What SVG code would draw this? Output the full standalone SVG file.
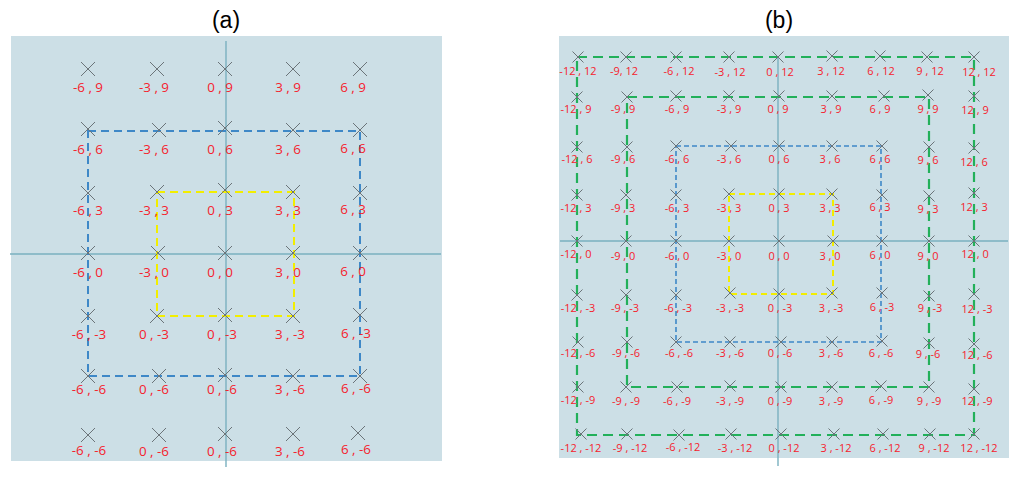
<svg xmlns="http://www.w3.org/2000/svg" xmlns:xlink="http://www.w3.org/1999/xlink" width="1020" height="478" viewBox="0 0 1020 478">
<style>
.bg{fill:#ccdfe6}
.ax{stroke:#7ab0bf;stroke-width:1.4;fill:none}
.cr{stroke:#6b7479;stroke-width:1;fill:none}
.la{font-family:"Open Sans","DejaVu Sans",sans-serif;font-size:13.4px;fill:#f5222d;text-anchor:middle}
.lb{font-family:"Open Sans","DejaVu Sans",sans-serif;font-size:11px;fill:#f5222d;text-anchor:middle}
.ti{font-family:"Liberation Sans",Arial,sans-serif;font-size:23px;fill:#000;text-anchor:middle}
.yel{stroke:#f2ee00;stroke-width:2;stroke-dasharray:8 5;fill:none}
.blu{stroke:#3e88c7;stroke-width:2;stroke-dasharray:8 5;fill:none}
.yelb{stroke:#f2ee00;stroke-width:2;stroke-dasharray:6 4;fill:none}
.blub{stroke:#3e88c7;stroke-width:1.6;stroke-dasharray:5 3;fill:none}
.grn{stroke:#22b05a;stroke-width:2.2;stroke-dasharray:10 6;fill:none}
</style>
<defs>
<path id="xa" class="cr" d="M-7-7L7 7M-7 7L7-7"/>
<path id="xb" class="cr" d="M-5.5-5.5L5.5 5.5M-5.5 5.5L5.5-5.5"/>
</defs>
<text class="ti" x="226" y="28">(a)</text>
<text class="ti" x="779" y="28">(b)</text>
<rect class="bg" x="11" y="36" width="431" height="425"/>
<rect class="bg" x="559" y="36" width="450" height="422"/>
<g id="axes">
<line class="ax" x1="226" y1="41" x2="226" y2="467"/>
<line class="ax" x1="10" y1="254" x2="441" y2="254"/>
<line class="ax" x1="778" y1="57" x2="778" y2="466"/>
<line class="ax" x1="560" y1="241" x2="1008" y2="241"/>
</g>
<g id="connectors">
<rect class="blu" x="88" y="131" width="272" height="245"/>
<rect class="yel" x="157" y="192" width="137" height="124"/>
<rect class="grn" x="577" y="57" width="397" height="378"/>
<rect class="grn" x="627" y="97" width="302" height="290"/>
<rect class="blub" x="676" y="146" width="205" height="196"/>
<rect class="yelb" x="729" y="194" width="104" height="100"/>
</g>
<g id="panel-a">
<g id="a_m6_9"><use href="#xa" x="88" y="69"/><text class="la" x="88" y="92">-6 , 9</text></g>
<g id="a_m3_9"><use href="#xa" x="157" y="69"/><text class="la" x="154" y="92">-3 , 9</text></g>
<g id="a_0_9"><use href="#xa" x="225" y="69"/><text class="la" x="220" y="92">0 , 9</text></g>
<g id="a_3_9"><use href="#xa" x="293" y="69"/><text class="la" x="288" y="92">3 , 9</text></g>
<g id="a_6_9"><use href="#xa" x="360" y="69"/><text class="la" x="353" y="92">6 , 9</text></g>
<g id="a_m6_6"><use href="#xa" x="88" y="129"/><text class="la" x="88" y="154">-6 , 6</text></g>
<g id="a_m3_6"><use href="#xa" x="159" y="130"/><text class="la" x="154" y="154">-3 , 6</text></g>
<g id="a_0_6"><use href="#xa" x="225" y="128"/><text class="la" x="220" y="154">0 , 6</text></g>
<g id="a_3_6"><use href="#xa" x="293" y="130"/><text class="la" x="288" y="154">3 , 6</text></g>
<g id="a_6_6"><use href="#xa" x="360" y="130"/><text class="la" x="353" y="153">6 , 6</text></g>
<g id="a_m6_3"><use href="#xa" x="88" y="193"/><text class="la" x="88" y="215">-6 , 3</text></g>
<g id="a_m3_3"><use href="#xa" x="157" y="192"/><text class="la" x="154" y="215">-3 , 3</text></g>
<g id="a_0_3"><use href="#xa" x="225" y="190"/><text class="la" x="220" y="215">0 , 3</text></g>
<g id="a_3_3"><use href="#xa" x="293" y="192"/><text class="la" x="288" y="215">3 , 3</text></g>
<g id="a_6_3"><use href="#xa" x="360" y="193"/><text class="la" x="353" y="214">6 , 3</text></g>
<g id="a_m6_0"><use href="#xa" x="88" y="253"/><text class="la" x="88" y="277">-6 , 0</text></g>
<g id="a_m3_0"><use href="#xa" x="158" y="253"/><text class="la" x="154" y="277">-3 , 0</text></g>
<g id="a_0_0"><use href="#xa" x="225" y="253"/><text class="la" x="220" y="277">0 , 0</text></g>
<g id="a_3_0"><use href="#xa" x="293" y="253"/><text class="la" x="288" y="277">3 , 0</text></g>
<g id="a_6_0"><use href="#xa" x="360" y="253"/><text class="la" x="353" y="276">6 , 0</text></g>
<g id="a_m6_m3"><use href="#xa" x="88" y="316"/><text class="la" x="89" y="339">-6 , -3</text></g>
<g id="a_0_m3a"><use href="#xa" x="157" y="316"/><text class="la" x="154" y="339">0 , -3</text></g>
<g id="a_0_m3"><use href="#xa" x="225" y="315"/><text class="la" x="222" y="339">0 , -3</text></g>
<g id="a_3_m3"><use href="#xa" x="293" y="316"/><text class="la" x="290" y="339">3 , -3</text></g>
<g id="a_6_m3"><use href="#xa" x="360" y="315"/><text class="la" x="356" y="338">6 , -3</text></g>
<g id="a_m6_m6"><use href="#xa" x="88" y="376"/><text class="la" x="89" y="394">-6 , -6</text></g>
<g id="a_0_m6a"><use href="#xa" x="159" y="376"/><text class="la" x="154" y="394">0 , -6</text></g>
<g id="a_0_m6"><use href="#xa" x="225" y="375"/><text class="la" x="222" y="394">0 , -6</text></g>
<g id="a_3_m6"><use href="#xa" x="293" y="376"/><text class="la" x="290" y="394">3 , -6</text></g>
<g id="a_6_m6"><use href="#xa" x="360" y="376"/><text class="la" x="356" y="393">6 , -6</text></g>
<g id="a_m6_m6b"><use href="#xa" x="88" y="435"/><text class="la" x="89" y="455">-6 , -6</text></g>
<g id="a_0_m6b"><use href="#xa" x="159" y="435"/><text class="la" x="154" y="456">0 , -6</text></g>
<g id="a_0_m6c"><use href="#xa" x="225" y="434"/><text class="la" x="222" y="456">0 , -6</text></g>
<g id="a_3_m6b"><use href="#xa" x="293" y="434"/><text class="la" x="290" y="456">3 , -6</text></g>
<g id="a_6_m6b"><use href="#xa" x="358" y="433"/><text class="la" x="356" y="454">6 , -6</text></g>
</g>
<g id="panel-b">
<g id="b_m12_12"><use href="#xb" x="578" y="57"/><text class="lb" x="578" y="75">-12 , 12</text></g>
<g id="b_m9_12"><use href="#xb" x="626" y="57"/><text class="lb" x="624" y="75">-9, 12</text></g>
<g id="b_m6_12"><use href="#xb" x="676" y="57"/><text class="lb" x="679" y="75">-6 , 12</text></g>
<g id="b_m3_12"><use href="#xb" x="729" y="57"/><text class="lb" x="730" y="76">-3 , 12</text></g>
<g id="b_0_12"><use href="#xb" x="778" y="57"/><text class="lb" x="780" y="76">0 , 12</text></g>
<g id="b_3_12"><use href="#xb" x="832" y="56"/><text class="lb" x="831" y="75">3 , 12</text></g>
<g id="b_6_12"><use href="#xb" x="880" y="56"/><text class="lb" x="881" y="75">6 , 12</text></g>
<g id="b_9_12"><use href="#xb" x="927" y="57"/><text class="lb" x="930" y="75">9 , 12</text></g>
<g id="b_12_12"><use href="#xb" x="974" y="57"/><text class="lb" x="979" y="76">12 , 12</text></g>
<g id="b_m12_9"><use href="#xb" x="577" y="97"/><text class="lb" x="576" y="113">-12 , 9</text></g>
<g id="b_m9_9"><use href="#xb" x="627" y="97"/><text class="lb" x="623" y="113">-9 , 9</text></g>
<g id="b_m6_9"><use href="#xb" x="676" y="96"/><text class="lb" x="677" y="113">-6 , 9</text></g>
<g id="b_m3_9"><use href="#xb" x="729" y="96"/><text class="lb" x="729" y="113">-3 , 9</text></g>
<g id="b_0_9"><use href="#xb" x="779" y="96"/><text class="lb" x="778" y="113">0 , 9</text></g>
<g id="b_3_9"><use href="#xb" x="832" y="96"/><text class="lb" x="831" y="113">3 , 9</text></g>
<g id="b_6_9"><use href="#xb" x="884" y="96"/><text class="lb" x="880" y="113">6 , 9</text></g>
<g id="b_9_9"><use href="#xb" x="928" y="95"/><text class="lb" x="928" y="113">9 , 9</text></g>
<g id="b_12_9"><use href="#xb" x="974" y="96"/><text class="lb" x="975" y="114">12 , 9</text></g>
<g id="b_m12_6"><use href="#xb" x="577" y="147"/><text class="lb" x="577" y="163">-12 , 6</text></g>
<g id="b_m9_6"><use href="#xb" x="627" y="147"/><text class="lb" x="623" y="163">-9 , 6</text></g>
<g id="b_m6_6"><use href="#xb" x="676" y="146"/><text class="lb" x="677" y="163">-6 , 6</text></g>
<g id="b_m3_6"><use href="#xb" x="731" y="146"/><text class="lb" x="729" y="163">-3 , 6</text></g>
<g id="b_0_6"><use href="#xb" x="779" y="146"/><text class="lb" x="779" y="163">0 , 6</text></g>
<g id="b_3_6"><use href="#xb" x="832" y="146"/><text class="lb" x="830" y="163">3 , 6</text></g>
<g id="b_6_6"><use href="#xb" x="882" y="146"/><text class="lb" x="880" y="163">6 , 6</text></g>
<g id="b_9_6"><use href="#xb" x="929" y="147"/><text class="lb" x="928" y="164">9 , 6</text></g>
<g id="b_12_6"><use href="#xb" x="974" y="148"/><text class="lb" x="974" y="166">12 , 6</text></g>
<g id="b_m12_3"><use href="#xb" x="577" y="195"/><text class="lb" x="576" y="212">-12 , 3</text></g>
<g id="b_m9_3"><use href="#xb" x="626" y="195"/><text class="lb" x="623" y="212">-9 , 3</text></g>
<g id="b_m6_3"><use href="#xb" x="676" y="195"/><text class="lb" x="677" y="212">-6 , 3</text></g>
<g id="b_m3_3"><use href="#xb" x="729" y="194"/><text class="lb" x="729" y="212">-3 , 3</text></g>
<g id="b_0_3"><use href="#xb" x="779" y="194"/><text class="lb" x="779" y="212">0 , 3</text></g>
<g id="b_3_3"><use href="#xb" x="832" y="194"/><text class="lb" x="830" y="212">3 , 3</text></g>
<g id="b_6_3"><use href="#xb" x="882" y="195"/><text class="lb" x="880" y="211">6 , 3</text></g>
<g id="b_9_3"><use href="#xb" x="929" y="196"/><text class="lb" x="928" y="213">9 , 3</text></g>
<g id="b_12_3"><use href="#xb" x="974" y="193"/><text class="lb" x="974" y="211">12 , 3</text></g>
<g id="b_m12_0"><use href="#xb" x="577" y="241"/><text class="lb" x="576" y="258">-12 , 0</text></g>
<g id="b_m9_0"><use href="#xb" x="626" y="241"/><text class="lb" x="623" y="260">-9 , 0</text></g>
<g id="b_m6_0"><use href="#xb" x="676" y="241"/><text class="lb" x="677" y="260">-6 , 0</text></g>
<g id="b_m3_0"><use href="#xb" x="729" y="241"/><text class="lb" x="729" y="260">-3 , 0</text></g>
<g id="b_0_0"><use href="#xb" x="779" y="241"/><text class="lb" x="779" y="260">0 , 0</text></g>
<g id="b_3_0"><use href="#xb" x="833" y="241"/><text class="lb" x="830" y="260">3 , 0</text></g>
<g id="b_6_0"><use href="#xb" x="882" y="241"/><text class="lb" x="880" y="259">6 , 0</text></g>
<g id="b_9_0"><use href="#xb" x="929" y="241"/><text class="lb" x="928" y="260">9 , 0</text></g>
<g id="b_12_0"><use href="#xb" x="974" y="241"/><text class="lb" x="975" y="258">12 , 0</text></g>
<g id="b_m12_m3"><use href="#xb" x="577" y="295"/><text class="lb" x="578" y="312">-12 , -3</text></g>
<g id="b_m9_m3"><use href="#xb" x="626" y="295"/><text class="lb" x="625" y="312">-9 , -3</text></g>
<g id="b_m6_m3"><use href="#xb" x="676" y="295"/><text class="lb" x="678" y="312">-6 , -3</text></g>
<g id="b_m3_m3"><use href="#xb" x="730" y="293"/><text class="lb" x="730" y="312">-3 , -3</text></g>
<g id="b_0_m3"><use href="#xb" x="779" y="294"/><text class="lb" x="780" y="312">0 , -3</text></g>
<g id="b_3_m3"><use href="#xb" x="832" y="293"/><text class="lb" x="831" y="312">3 , -3</text></g>
<g id="b_6_m3"><use href="#xb" x="882" y="293"/><text class="lb" x="882" y="311">6 , -3</text></g>
<g id="b_9_m3"><use href="#xb" x="929" y="296"/><text class="lb" x="930" y="312">9 , -3</text></g>
<g id="b_12_m3"><use href="#xb" x="974" y="294"/><text class="lb" x="977" y="313">12 , -3</text></g>
<g id="b_m12_m6"><use href="#xb" x="578" y="342"/><text class="lb" x="578" y="357">-12 , -6</text></g>
<g id="b_m9_m6"><use href="#xb" x="627" y="342"/><text class="lb" x="626" y="357">-9 , -6</text></g>
<g id="b_m6_m6"><use href="#xb" x="676" y="342"/><text class="lb" x="679" y="357">-6 , -6</text></g>
<g id="b_m3_m6"><use href="#xb" x="730" y="342"/><text class="lb" x="730" y="357">-3 , -6</text></g>
<g id="b_0_m6"><use href="#xb" x="781" y="342"/><text class="lb" x="780" y="357">0 , -6</text></g>
<g id="b_3_m6"><use href="#xb" x="832" y="342"/><text class="lb" x="831" y="357">3 , -6</text></g>
<g id="b_6_m6"><use href="#xb" x="882" y="341"/><text class="lb" x="881" y="357">6 , -6</text></g>
<g id="b_9_m6"><use href="#xb" x="929" y="343"/><text class="lb" x="928" y="358">9 , -6</text></g>
<g id="b_12_m6"><use href="#xb" x="974" y="344"/><text class="lb" x="977" y="359">12 , -6</text></g>
<g id="b_m12_m9"><use href="#xb" x="578" y="387"/><text class="lb" x="578" y="404">-12 , -9</text></g>
<g id="b_m9_m9"><use href="#xb" x="626" y="387"/><text class="lb" x="626" y="405">-9 , -9</text></g>
<g id="b_m6_m9"><use href="#xb" x="677" y="387"/><text class="lb" x="677" y="405">-6 , -9</text></g>
<g id="b_m3_m9"><use href="#xb" x="730" y="386"/><text class="lb" x="730" y="405">-3 , -9</text></g>
<g id="b_0_m9"><use href="#xb" x="781" y="387"/><text class="lb" x="780" y="405">0 , -9</text></g>
<g id="b_3_m9"><use href="#xb" x="832" y="387"/><text class="lb" x="831" y="405">3 , -9</text></g>
<g id="b_6_m9"><use href="#xb" x="881" y="386"/><text class="lb" x="881" y="404">6 , -9</text></g>
<g id="b_9_m9"><use href="#xb" x="929" y="387"/><text class="lb" x="929" y="405">9 , -9</text></g>
<g id="b_12_m9"><use href="#xb" x="974" y="389"/><text class="lb" x="977" y="405">12 , -9</text></g>
<g id="b_m12_m12"><use href="#xb" x="581" y="434"/><text class="lb" x="581" y="452">-12 , -12</text></g>
<g id="b_m9_m12"><use href="#xb" x="627" y="434"/><text class="lb" x="630" y="452">-9 , -12</text></g>
<g id="b_m6_m12"><use href="#xb" x="679" y="435"/><text class="lb" x="683" y="451">-6 , -12</text></g>
<g id="b_m3_m12"><use href="#xb" x="731" y="434"/><text class="lb" x="735" y="452">-3 , -12</text></g>
<g id="b_0_m12"><use href="#xb" x="781" y="434"/><text class="lb" x="784" y="452">0 , -12</text></g>
<g id="b_3_m12"><use href="#xb" x="834" y="434"/><text class="lb" x="836" y="452">3 , -12</text></g>
<g id="b_6_m12"><use href="#xb" x="883" y="434"/><text class="lb" x="885" y="452">6 , -12</text></g>
<g id="b_9_m12"><use href="#xb" x="930" y="434"/><text class="lb" x="934" y="452">9 , -12</text></g>
<g id="b_12_m12"><use href="#xb" x="974" y="434"/><text class="lb" x="979" y="452">12 , -12</text></g>
</g>
</svg>
